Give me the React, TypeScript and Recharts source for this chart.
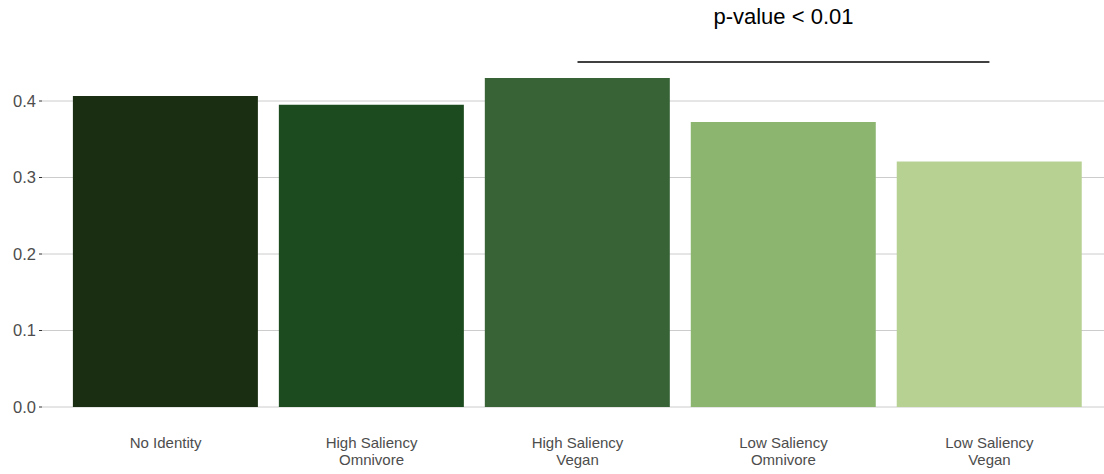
import { BarChart, Bar, XAxis, YAxis, CartesianGrid, Cell, ReferenceLine } from 'recharts';

const categories = ['No Identity', 'High Saliency\nOmnivore', 'High Saliency\nVegan', 'Low Saliency\nOmnivore', 'Low Saliency\nVegan'];
const values = [0.4065, 0.395, 0.430, 0.3725, 0.321];
const colors = ['#1a2f12', '#1b4b1e', '#376337', '#8cb670', '#b7d193'];
const yTicks = [0, 0.1, 0.2, 0.3, 0.4];
const sigFrom = categories[2];
const sigTo = categories[4];
const sigY = 0.451;
const sigText = 'p-value < 0.01';

const data = categories.map((name, i) => ({ name, value: values[i] }));

const FONT = '"Liberation Sans", Arial, sans-serif';

const CatTick = ({ x, y, payload }: any) => {
  const lines = String(payload.value).split('\n');
  return (
    <text x={x} y={y} textAnchor="middle" fill="#4d4d4d" fontSize={15} fontFamily={FONT}>
      {lines.map((l, i) => (
        <tspan key={i} x={x} dy={i === 0 ? 41 : 17}>{l}</tspan>
      ))}
    </text>
  );
};

export default function App() {
  return (
    <div style={{ position: 'absolute', left: 0, top: 0, width: 1104, height: 474, overflow: 'hidden', background: '#fff' }}>
      <BarChart
        width={1113}
        height={474}
        data={data}
        margin={{ top: 24.5, right: 0, bottom: 0, left: 0 }}
        barCategoryGap="5%"
      >
        <CartesianGrid vertical={false} horizontalValues={yTicks} stroke="#cccccc" strokeWidth={1} />
        <XAxis
          dataKey="name"
          height={67}
          axisLine={false}
          tickLine={false}
          tickSize={0}
          tickMargin={0}
          padding={{ left: 20.6, right: 20.6 }}
          tick={<CatTick />}
          interval={0}
        />
        <YAxis
          width={42}
          domain={[0, 0.5]}
          ticks={yTicks}
          axisLine={false}
          tickLine={{ stroke: '#333333' }}
          tickSize={3}
          tickMargin={3}
          tickFormatter={(v: number) => v.toFixed(1)}
          tick={{ fill: '#4d4d4d', fontSize: 16.5, fontFamily: FONT }}
        />
        <Bar dataKey="value" isAnimationActive={false}>
          {data.map((d, i) => (
            <Cell key={d.name} fill={colors[i]} />
          ))}
        </Bar>
        <ReferenceLine
          segment={[{ x: sigFrom, y: sigY }, { x: sigTo, y: sigY }]}
          stroke="#000000"
          strokeWidth={1.5}
          strokeOpacity={1}
          ifOverflow="visible"
          label={{ value: sigText, position: 'top', offset: 38, fill: '#000000', fontSize: 22, fontFamily: FONT }}
        />
      </BarChart>
    </div>
  );
}
